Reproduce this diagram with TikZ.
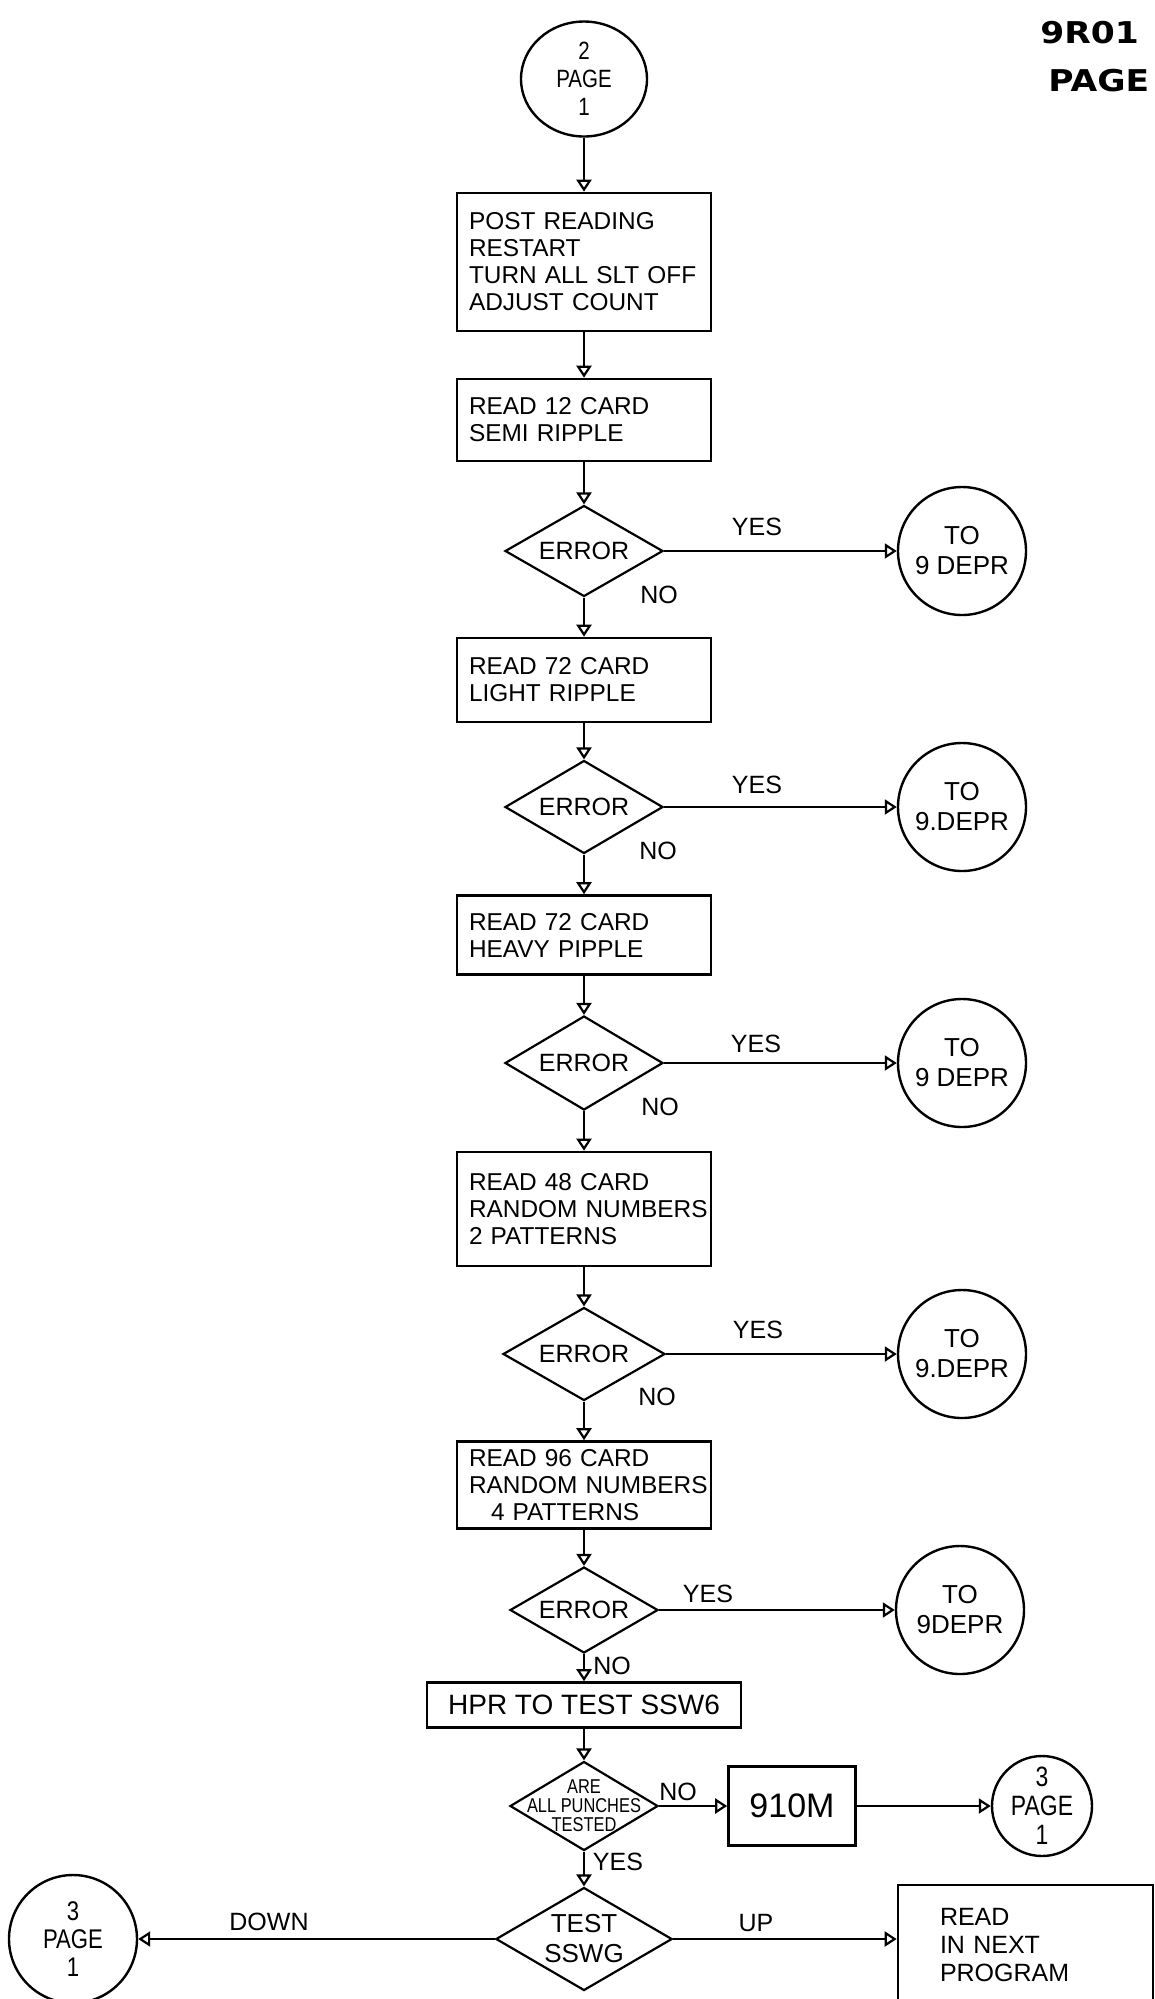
\documentclass[tikz,border=0pt]{standalone}
\usepackage{fontspec}
\setmainfont{Liberation Sans}
\newfontfamily\narrowfont[FakeStretch=0.82]{Liberation Sans}
\newfontfamily\headfont[FakeStretch=1.15]{DejaVu Sans}
\usetikzlibrary{shapes.geometric,arrows.meta}
\tikzset{>={Triangle[open,length=6pt,width=7.5pt]}}
\tikzset{
  procbox/.style={draw,line width=1.3pt,inner xsep=6pt,inner ysep=0pt,align=left,text width=115pt,font=\fontsize{12.2}{13.5}\selectfont},
  decision/.style={draw,diamond,aspect=2,line width=1.1pt,inner sep=0pt,align=center,font=\fontsize{12.5}{15}\selectfont},
  offpage/.style={draw,circle,line width=1.2pt,inner sep=-3pt,minimum size=64pt,align=center,font=\fontsize{13}{15}\selectfont},
  answer/.style={inner sep=0pt,font=\fontsize{12.5}{14}\selectfont},
  flow/.style={->,line width=1.1pt},
}

\begin{document}
\begin{tikzpicture}[x=0.5pt,y=-0.5pt]
\useasboundingbox (0,0) rectangle (1155,1999);

% sheet heading
\node[anchor=west,inner sep=0pt,font={\headfont\bfseries\fontsize{15}{18}\selectfont}] (sheet) at (1040,33) {9R01};
\node[anchor=west,inner sep=0pt,font={\headfont\bfseries\fontsize{15}{18}\selectfont}] (sheetpage) at (1048,81) {PAGE};

% main column
\node[draw,ellipse,line width=1.2pt,inner sep=0pt,minimum width=63pt,minimum height=57.5pt,align=center,font={\narrowfont\fontsize{12.5}{14}\selectfont}] (start) at (584,79) {2\\PAGE\\1};
\node[procbox,minimum height=69pt] (post) at (584,262) {POST READING\\RESTART\\TURN ALL SLT OFF\\ADJUST COUNT};
\node[procbox,minimum height=41pt] (semi) at (584,420) {READ 12 CARD\\SEMI RIPPLE};
\node[decision,minimum width=79pt,minimum height=45.5pt] (err1) at (584,551) {ERROR};
\node[procbox,minimum height=42pt] (light) at (584,680) {READ 72 CARD\\LIGHT RIPPLE};
\node[decision,minimum width=79pt,minimum height=46.5pt] (err2) at (584,807) {ERROR};
\node[procbox,minimum height=39.5pt] (heavy) at (584,935) {READ 72 CARD\\HEAVY PIPPLE};
\node[decision,minimum width=79pt,minimum height=47pt] (err3) at (584,1063) {ERROR};
\node[procbox,minimum height=57pt] (rand2) at (584,1209) {READ 48 CARD\\\mbox{RANDOM NUMBERS}\\2 PATTERNS};
\node[decision,minimum width=81pt,minimum height=46.5pt] (err4) at (584,1354) {ERROR};
\node[procbox,minimum height=43.5pt] (rand4) at (584,1485) {READ 96 CARD\\\mbox{RANDOM NUMBERS}\\\hspace*{11pt}4 PATTERNS};
\node[decision,minimum width=74pt,minimum height=43pt] (err5) at (584,1610) {ERROR};
\node[draw,line width=1.3pt,inner sep=0pt,minimum width=157pt,minimum height=22.5pt,font=\fontsize{14}{16}\selectfont] (hpr) at (584,1705) {HPR TO TEST SSW6};
\node[decision,minimum width=74pt,minimum height=44.5pt,
  label={[align=center,inner sep=0pt,font={\narrowfont\fontsize{10}{9.5}\selectfont}]center:ARE\\ALL PUNCHES\\TESTED}] (punch) at (584,1806) {};
\node[decision,minimum width=86pt,minimum height=51.5pt,font=\fontsize{13}{15}\selectfont] (test) at (584,1939) {TEST\\SSWG};

% error exits
\node[offpage] (dep1) at (962,551) {TO\\9 DEPR};
\node[offpage] (dep2) at (962,807) {TO\\9.DEPR};
\node[offpage] (dep3) at (962,1063) {TO\\9 DEPR};
\node[offpage] (dep4) at (962,1354) {TO\\9.DEPR};
\node[offpage] (dep5) at (960,1610) {TO\\9DEPR};

% bottom exits
\node[draw,line width=1.3pt,inner sep=0pt,minimum width=63.5pt,minimum height=39.5pt,font=\fontsize{17}{19}\selectfont] (om) at (792,1806) {910M};
\node[offpage,minimum size=50pt,font={\narrowfont\fontsize{14}{14.5}\selectfont}] (pagea) at (1042,1806) {3\\PAGE\\1};
\node[offpage,font={\narrowfont\fontsize{13.5}{14}\selectfont}] (pageb) at (73,1939) {3\\PAGE\\1};
\node[draw,line width=1.3pt,inner xsep=21pt,inner ysep=0pt,text width=85.5pt,minimum height=60pt,align=left,font=\fontsize{12.5}{14}\selectfont] (next) at (1025.5,1945) {READ\\IN NEXT\\PROGRAM};

% answers
\node[answer] (yes1) at (757,527) {YES};
\node[answer] (no1) at (659,595) {NO};
\node[answer] (yes2) at (757,785) {YES};
\node[answer] (no2) at (658,851) {NO};
\node[answer] (yes3) at (756,1044) {YES};
\node[answer] (no3) at (660,1107) {NO};
\node[answer] (yes4) at (758,1330) {YES};
\node[answer] (no4) at (657,1397) {NO};
\node[answer] (yes5) at (708,1594) {YES};
\node[answer] (no5) at (612,1666) {NO};
\node[answer] (no6) at (678,1792) {NO};
\node[answer] (yes6) at (618,1862) {YES};
\node[answer] (down) at (269,1922) {DOWN};
\node[answer] (up) at (756,1923) {UP};

% connectors
\draw[flow] (start) -- (post);
\draw[flow] (post) -- (semi);
\draw[flow] (semi) -- (err1);
\draw[flow] (err1) -- (light);
\draw[flow] (light) -- (err2);
\draw[flow] (err2) -- (heavy);
\draw[flow] (heavy) -- (err3);
\draw[flow] (err3) -- (rand2);
\draw[flow] (rand2) -- (err4);
\draw[flow] (err4) -- (rand4);
\draw[flow] (rand4) -- (err5);
\draw[flow] (err5) -- (hpr);
\draw[flow] (hpr) -- (punch);
\draw[flow] (punch) -- (test);
\draw[flow] (err1) -- (dep1);
\draw[flow] (err2) -- (dep2);
\draw[flow] (err3) -- (dep3);
\draw[flow] (err4) -- (dep4);
\draw[flow] (err5) -- (dep5);
\draw[flow] (punch) -- (om);
\draw[flow] (om) -- (pagea);
\draw[flow] (test) -- (pageb);
\draw[flow] (test.east) -- (test.east -| next.west);
\end{tikzpicture}
\end{document}
